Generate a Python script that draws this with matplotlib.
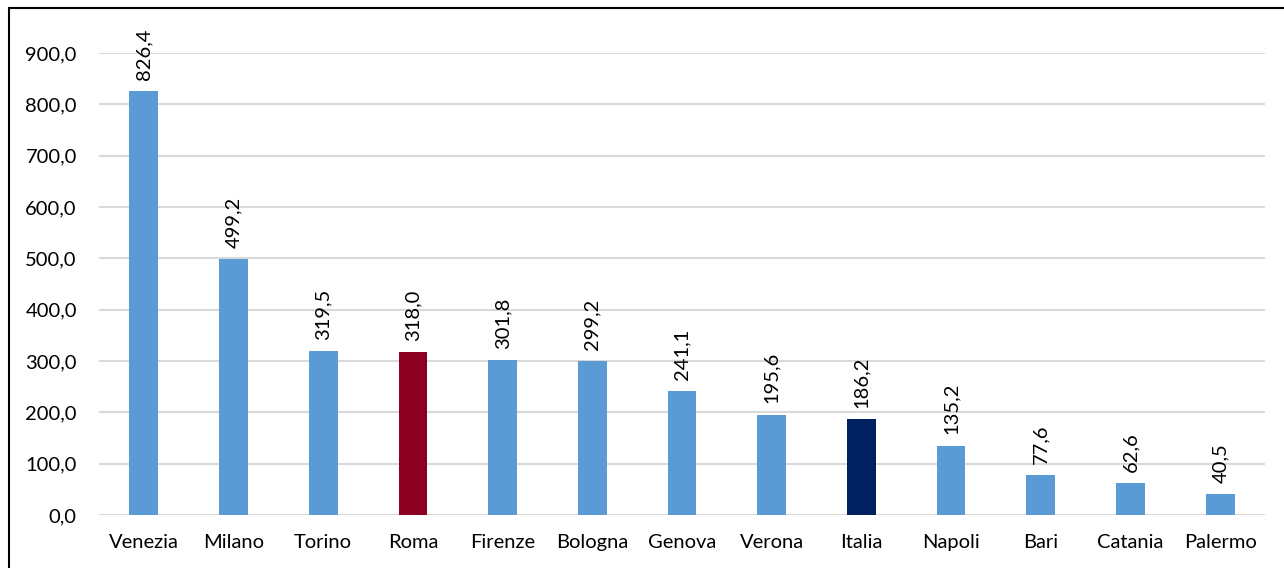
import matplotlib.pyplot as plt
from matplotlib.patches import Rectangle

citta = ["Venezia", "Milano", "Torino", "Roma", "Firenze", "Bologna", "Genova",
         "Verona", "Italia", "Napoli", "Bari", "Catania", "Palermo"]
valori = [826.4, 499.2, 319.5, 318.0, 301.8, 299.2, 241.1,
          195.6, 186.2, 135.2, 77.6, 62.6, 40.5]
colori = {"Roma": "#8B0021", "Italia": "#002060"}
blu = "#5B9BD5"

plt.rcParams['font.family'] = ['Lato', 'DejaVu Sans']

W, H = 1284, 568
fig = plt.figure(figsize=(W / 100, H / 100), dpi=100)
ax = fig.add_axes([99 / W, 1 - 515 / H, (1265 - 99) / W, (515 - 53) / H])

x = range(len(citta))
bar_colors = [colori.get(c, blu) for c in citta]
ax.bar(x, valori, width=0.32, color=bar_colors, zorder=3)

# etichette dei valori, ruotate e con la virgola decimale
for i, v in enumerate(valori):
    ax.annotate(f"{v:.1f}".replace(".", ","), (i, v), xytext=(0, 8),
                textcoords="offset points", rotation=90, ha="center", va="bottom",
                fontsize=14.5, annotation_clip=False)

ax.set_xlim(-0.5, len(citta) - 0.5)
ax.set_ylim(0, 900)
ax.set_yticks(range(0, 901, 100))
ax.set_yticklabels([f"{t},0" for t in range(0, 901, 100)])
ax.set_xticks(list(x))
ax.set_xticklabels(citta)
ax.tick_params(length=0, labelsize=14.5)
ax.tick_params(axis='x', pad=14)
ax.tick_params(axis='y', pad=16)
ax.grid(axis='y', color="#D9D9D9", linewidth=1.5, zorder=0)
for s in ax.spines.values():
    s.set_visible(False)

# cornice esterna del grafico
fig.patches.append(Rectangle((9 / W, -0.1), 1.2, 1 - 8 / H + 0.1, transform=fig.transFigure,
                             fill=False, edgecolor="black", linewidth=1.5))

fig.savefig("out.png", dpi=100)
